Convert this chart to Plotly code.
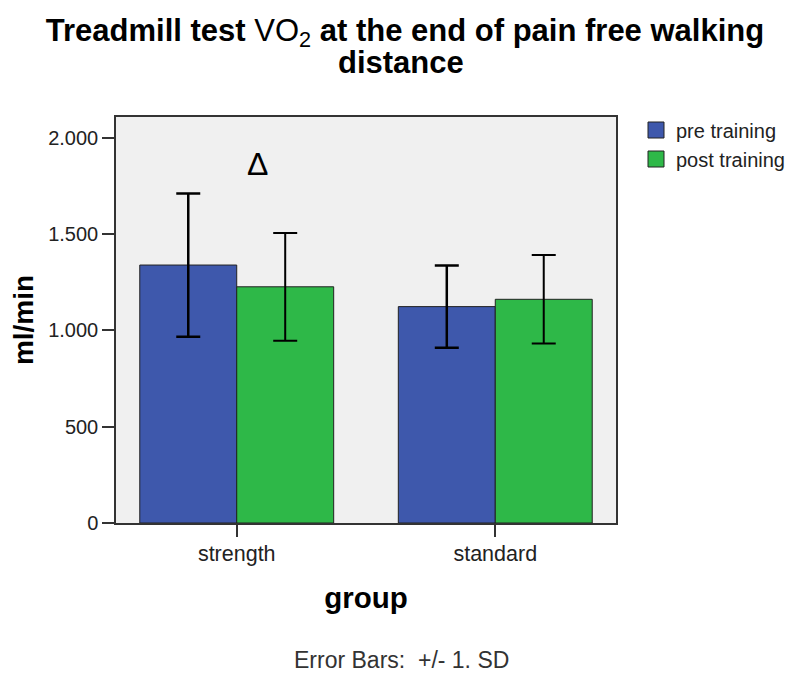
import plotly.graph_objects as go

# data
groups = ["strength", "standard"]
pre_mean = [1340, 1124]
pre_sd = [372, 214]
post_mean = [1227, 1162]
post_sd = [280, 230]

y_ticks = [0, 500, 1000, 1500, 2000]
y_tick_text = ["0", "500", "1.000", "1.500", "2.000"]

blue = "#3e58ac"
green = "#2eb848"
font = "Liberation Sans, Arial, sans-serif"

fig = go.Figure()

fig.add_trace(
    go.Bar(
        x=groups,
        y=pre_mean,
        name="pre training",
        marker=dict(color=blue, line=dict(color="#222", width=1)),
        error_y=dict(type="data", array=pre_sd, color="black", thickness=2.5, width=12),
        showlegend=False,
    )
)
fig.add_trace(
    go.Bar(
        x=groups,
        y=post_mean,
        name="post training",
        marker=dict(color=green, line=dict(color="#222", width=1)),
        error_y=dict(type="data", array=post_sd, color="black", thickness=2, width=12),
        showlegend=False,
    )
)

# legend proxies with bigger square swatches
for nm, col in [("pre training", blue), ("post training", green)]:
    fig.add_trace(
        go.Scatter(
            x=[None],
            y=[None],
            mode="markers",
            name=nm,
            marker=dict(symbol="square", size=17, color=col, line=dict(color="#222", width=1)),
        )
    )

# page is drawn with an 8px body margin, so the margins are shifted by 8
fig.update_layout(
    width=794,
    height=673,
    margin=dict(l=108, r=178, t=109, b=158),
    paper_bgcolor="white",
    plot_bgcolor="#f0f0f0",
    barmode="group",
    bargap=0.25,
    bargroupgap=0,
    font=dict(family=font, color="#222"),
    title=dict(
        text="<b>Treadmill test</b> VO<sub>2</sub> <b>at the end of pain free walking</b>",
        font=dict(family=font, size=31, color="black"),
        x=0.5,
        xanchor="center",
        y=1 - 22 / 673,
        yanchor="middle",
    ),
    legend=dict(
        x=1.04,
        y=1.016,
        xanchor="left",
        yanchor="top",
        font=dict(size=20, color="#222"),
        itemwidth=30,
        tracegroupgap=0,
        bgcolor="rgba(0,0,0,0)",
    ),
    showlegend=True,
)

fig.add_annotation(
    text="<b>distance</b>", xref="paper", yref="paper", x=0.57, y=1 + 55 / 406,
    showarrow=False, font=dict(family=font, size=31, color="black"), yanchor="middle",
)
fig.add_annotation(
    text="Δ", xref="x", yref="y", x=0.08, y=1865,
    showarrow=False, font=dict(family=font, size=32, color="black"),
)
fig.add_annotation(
    text="Error Bars:  +/- 1. SD", xref="paper", yref="paper", x=0.57, y=-0.337,
    showarrow=False, font=dict(family=font, size=23, color="#333"), yanchor="middle",
)

fig.update_xaxes(
    type="category",
    range=[-0.467, 1.467],
    showline=True,
    linecolor="#333",
    linewidth=1.5,
    mirror=True,
    ticks="outside",
    ticklen=12,
    tickcolor="#333",
    tickwidth=1.5,
    tickfont=dict(size=21.5, color="#222"),
    ticklabelstandoff=-2,
    showgrid=False,
    title=dict(text="<b>group</b>", font=dict(size=29.5, color="black"), standoff=23),
)
fig.update_yaxes(
    range=[0, 2109],
    tickvals=y_ticks,
    ticktext=y_tick_text,
    showline=True,
    linecolor="#333",
    linewidth=1.5,
    mirror=True,
    ticks="outside",
    ticklen=12,
    tickcolor="#333",
    tickwidth=1.5,
    tickfont=dict(size=20, color="#222"),
    showgrid=False,
    zeroline=False,
    title=dict(text="<b>ml/min</b>", font=dict(size=28, color="black"), standoff=9),
)

fig.write_html("out.html")
